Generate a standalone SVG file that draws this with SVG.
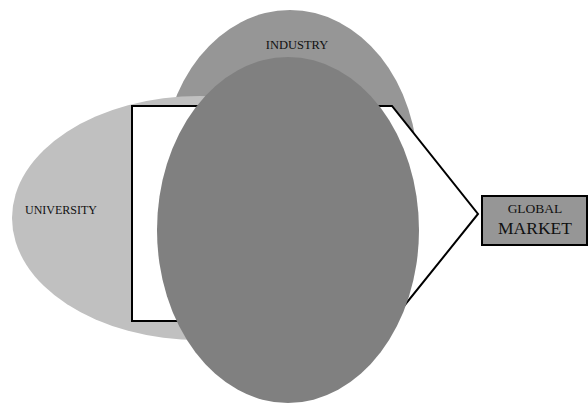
<svg xmlns="http://www.w3.org/2000/svg" width="588" height="404" viewBox="0 0 588 404">
<style>
.lbl{font-family:"Liberation Serif","Times New Roman",serif;fill:#111;text-anchor:middle}
.outline{stroke:#000;stroke-width:2}
</style>
<rect width="588" height="404" fill="#fff"/>
<g id="industry">
<ellipse cx="290" cy="170" rx="128" ry="160" fill="#969696"/>
<text class="lbl" x="297" y="49" font-size="12.5">INDUSTRY</text>
</g>
<g id="university">
<ellipse cx="200" cy="218" rx="188" ry="122" fill="#c0c0c0"/>
<text class="lbl" x="61" y="214" font-size="12">UNIVERSITY</text>
</g>
<g id="connectors">
<path class="outline" d="M132,106 L392,106 L478,214 L392,321 L132,321 Z" fill="#fff"/>
</g>
<g id="core">
<ellipse cx="288" cy="230" rx="131" ry="173" fill="#808080"/>
</g>
<g id="global-market">
<rect class="outline" x="482" y="196" width="105" height="49" fill="#969696"/>
<text class="lbl" x="535" y="213" font-size="13.5">GLOBAL</text>
<text class="lbl" x="535" y="234" font-size="17.5">MARKET</text>
</g>
</svg>
